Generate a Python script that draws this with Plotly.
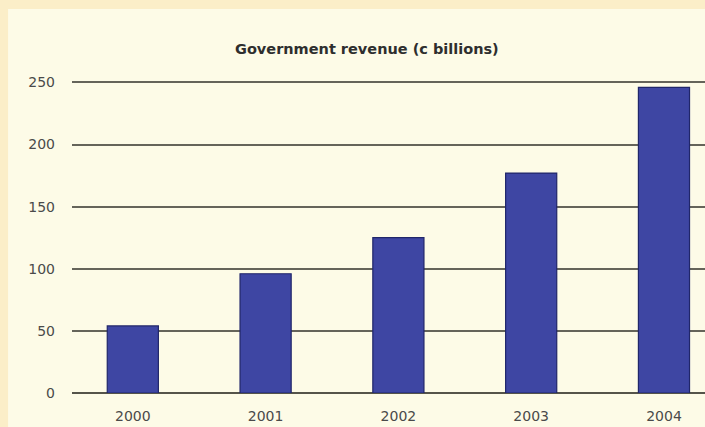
import plotly.graph_objects as go

# Government revenue by year (billions)
years = ["2000", "2001", "2002", "2003", "2004"]
revenue = [54, 96, 125, 177, 246]
y_ticks = [0, 50, 100, 150, 200, 250]

title_text = "Government revenue (c billions)"

fig = go.Figure()
fig.add_trace(go.Bar(
    x=years,
    y=revenue,
    width=0.385,
    marker=dict(color="#3e46a3", line=dict(color="#20266a", width=1.2)),
    hoverinfo="x+y",
))

# lighter inner panel on the tan page
fig.add_shape(
    type="rect", xref="paper", yref="paper",
    x0=-0.101, x1=1.05, y0=-0.25, y1=1.189,
    fillcolor="#fdfbe7", line=dict(width=0), layer="below",
)

fig.add_annotation(
    text="<b>" + title_text + "</b>",
    xref="paper", yref="paper", x=0.466, y=1.065,
    xanchor="center", yanchor="middle", showarrow=False,
    font=dict(family="DejaVu Sans", size=14.5, color="#2e2e2e"),
)

fig.update_layout(
    width=705, height=427,
    margin=dict(l=72, r=0, t=70, b=34),
    paper_bgcolor="#fbeec8",
    plot_bgcolor="rgba(0,0,0,0)",
    showlegend=False,
    bargap=0.6,
    font=dict(family="DejaVu Sans", size=14, color="#4a4a4a"),
)

fig.update_xaxes(
    type="category",
    range=[-0.458, 4.309],
    showgrid=False,
    zeroline=False,
    showline=False,
    ticks="",
    ticklabelstandoff=13,
    tickfont=dict(size=14, color="#4a4a4a"),
)

fig.update_yaxes(
    range=[0, 260],
    tickvals=y_ticks,
    showgrid=True,
    gridcolor="#65645a",
    gridwidth=1.6,
    zeroline=True,
    zerolinecolor="#55544a",
    zerolinewidth=1.8,
    showline=False,
    ticks="",
    ticklabelstandoff=16,
    tickfont=dict(size=14, color="#4a4a4a"),
)

fig.write_html("out.html")
